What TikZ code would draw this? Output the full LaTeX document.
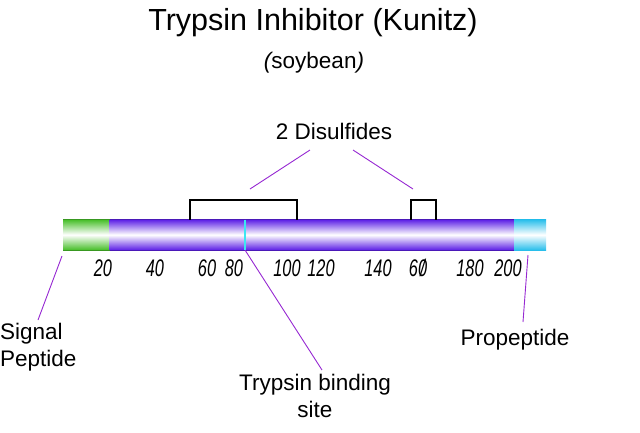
\documentclass[tikz,border=0pt]{standalone}
\usepackage{fontspec}
\setmainfont{Liberation Sans}
\usetikzlibrary{calc}
\definecolor{barpurple}{RGB}{92,30,230}
\definecolor{bargreen}{RGB}{70,190,40}
\definecolor{barcyan}{RGB}{40,190,235}
\definecolor{sitecyan}{RGB}{60,230,240}
\definecolor{leader}{RGB}{150,40,210}
\tikzset{
  lbl/.style={font=\fontsize{22.5}{27}\selectfont, inner sep=0pt},
  num/.style={font=\fontsize{24}{26}\itshape, inner sep=0pt},
  lead/.style={draw=leader, line width=0.9pt},
  bond/.style={draw=black, line width=1.2pt},
  seg/.style={top color=#1, bottom color=#1, middle color=white, draw=none}
}
\newcommand{\nm}[1]{\scalebox{0.68}[1]{#1}}
\begin{document}
\begin{tikzpicture}[x=1pt,y=-1pt]
\useasboundingbox (0,0) rectangle (640,432);
% title
\node[inner sep=0pt, font=\fontsize{30.5}{32}\selectfont] (title) at (313,23) {Trypsin Inhibitor (Kunitz)};
\node[lbl] (soy) at (314,63) {\itshape(\upshape soybean\itshape)};
% bar segments
\shade[seg=bargreen] (63,219.5) rectangle (109.5,250);
\shade[seg=barpurple] (109.5,219.5) rectangle (514,250);
\shade[seg=barcyan] (514,219.5) rectangle (546,250);
\draw[bargreen!80!black, line width=0.6pt] (63,219.5) -- (109.5,219.5) (63,250) -- (109.5,250);
\draw[barpurple!80!black, line width=0.6pt] (109.5,219.5) -- (514,219.5) (109.5,250) -- (514,250);
\coordinate (sigtop) at (62,256);
\coordinate (protop) at (528,255);
\coordinate (site) at (245,250);
\draw[sitecyan, line width=1.6pt] (245,219.5) -- (site);
% disulfide bonds
\coordinate (b1a) at (190,219.5);
\coordinate (b1b) at (297,219.5);
\coordinate (b2a) at (411,219.5);
\coordinate (b2b) at (436,219.5);
\draw[bond] (b1a) -- ++(0,-19.5) -| (b1b);
\draw[bond] (b2a) -- ++(0,-19.5) -| (b2b);
% numbers
\node[num] (n20) at (103,268) {\nm{20}};
\node[num] (n40) at (155,268) {\nm{40}};
\node[num] (n60) at (207,268) {\nm{60}};
\node[num] (n80) at (234,268) {\nm{80}};
\node[num] (n100) at (287,268) {\nm{100}};
\node[num] (n120) at (321,268) {\nm{120}};
\node[num] (n140) at (378,268) {\nm{140}};
\node[num] (n160) at (418,268) {\nm{6\ooalign{0\cr\hidewidth/\hidewidth}}};
\node[num] (n180) at (470,268) {\nm{180}};
\node[num] (n200) at (508,268) {\nm{200}};
% labels
\node[lbl] (dis) at (334,131) {2 Disulfides};
\node[lbl, align=left, anchor=west] (sig) at (0,347) {Signal\\Peptide};
\node[lbl] (pro) at (515,340) {Propeptide};
\node[lbl, align=center] (tbs) at (315,396) {Trypsin binding\\site};
% leaders
\coordinate (d1) at (310,150);
\coordinate (d2) at (353,150);
\draw[lead] (d1) -- (250,189);
\draw[lead] (d2) -- (413,189);
\draw[lead] (sigtop) -- (38,320);
\draw[lead] (protop) -- (523,322);
\draw[lead] (site) -- (322,370);
\end{tikzpicture}
\end{document}
